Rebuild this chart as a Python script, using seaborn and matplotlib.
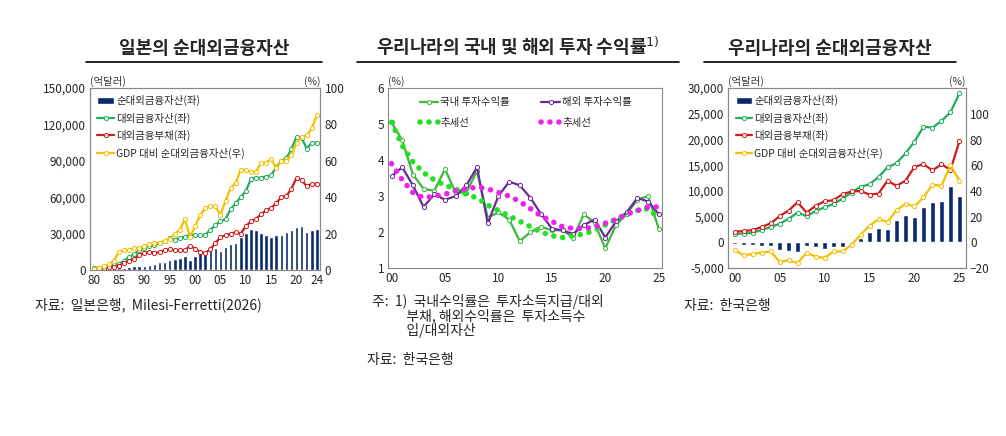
import matplotlib
matplotlib.use('Agg')
import matplotlib.pyplot as plt
import seaborn as sns
import numpy as np
from matplotlib.lines import Line2D

sns.set_theme(style='white')
plt.rcParams['font.family'] = ['Noto Sans CJK KR', 'DejaVu Sans']

# --- Japan (1980-2024), 억달러 / % of GDP
jp_years = list(range(1980, 2025))
jp_net = [100, 100, 250, 370, 740, 1300, 1800, 2400, 2900, 2900, 3300, 3800, 5100, 6100, 6900,
          8200, 8900, 9600, 11500, 8300, 11600, 14400, 14600, 16100, 17900, 15300, 18500, 21700,
          22500, 26800, 30300, 33400, 33000, 30800, 28500, 27300, 28600, 29100, 31000, 32700,
          35000, 36000, 31000, 33000, 33500]
jp_assets = [1500, 1800, 2300, 3000, 4000, 5000, 7500, 10500, 13000, 16000, 18000, 19500, 20500,
             22000, 23500, 26000, 25000, 26500, 27500, 29000, 29000, 28500, 29000, 33000, 37000,
             40000, 42000, 50000, 55000, 60000, 65000, 75000, 76000, 76000, 77000, 78000, 85000,
             90000, 92000, 100000, 110000, 109000, 100000, 105000, 105000]
jp_liab = [1000, 1200, 1500, 2000, 2500, 3500, 5500, 7500, 9000, 12000, 14000, 15000, 14000,
           14500, 16500, 17000, 16000, 16500, 16000, 20000, 17500, 14500, 14000, 17000, 22000,
           27000, 28500, 30000, 31000, 30000, 36000, 40000, 42000, 46000, 49000, 51000, 55000,
           60000, 61000, 67000, 76000, 74000, 69000, 71000, 71000]
jp_ratio = [0.5, 1, 2, 3, 5, 10, 11, 11, 12, 12, 13, 14, 15, 15, 16, 17, 20, 22, 28, 18, 24, 30,
            34, 35, 35, 30, 38, 45, 48, 55, 55, 54, 54, 59, 59, 61, 56, 60, 60, 63, 70, 73, 74, 78, 85]

# --- Korea investment returns (2000-2025), %
kr_years = list(range(2000, 2026))
ret_dom = [5.05, 4.55, 3.6, 3.2, 3.15, 3.75, 3.1, 3.1, 3.7, 2.4, 2.55, 2.35, 1.75, 2.0, 2.15,
           2.05, 2.05, 1.85, 2.5, 2.25, 1.55, 2.2, 2.5, 2.9, 3.0, 2.1]
ret_ovs = [3.55, 3.8, 3.3, 2.7, 3.05, 2.9, 3.0, 3.3, 3.8, 2.25, 3.0, 3.4, 3.3, 2.95, 2.5, 2.1,
           2.05, 1.95, 2.2, 2.35, 1.85, 2.3, 2.55, 2.95, 2.85, 2.5]
trend_dom = [5.05, 4.4, 3.95, 3.65, 3.45, 3.3, 3.2, 3.05, 2.95, 2.75, 2.6, 2.45, 2.3, 2.15, 2.0,
             1.9, 1.85, 1.9, 1.95, 2.05, 2.2, 2.35, 2.5, 2.6, 2.65, 2.4]
trend_ovs = [3.9, 3.45, 3.1, 2.95, 3.0, 3.05, 3.15, 3.2, 3.25, 3.2, 3.1, 3.0, 2.85, 2.65, 2.45,
             2.3, 2.15, 2.1, 2.1, 2.15, 2.25, 2.35, 2.5, 2.6, 2.7, 2.7]

# --- Korea NIIP (2000-2025)
kr_net = [-400, -500, -500, -600, -700, -1500, -1600, -1900, -600, -900, -1200, -800, -900, -300,
          800, 2100, 2800, 2600, 4400, 5300, 4900, 6900, 7900, 8100, 11000, 9000]
kr_assets = [1700, 1700, 1900, 2400, 3000, 3600, 4600, 5800, 5100, 6100, 6800, 7500, 8500, 9700,
             10800, 11300, 12700, 14600, 15400, 17300, 19600, 22500, 22300, 23600, 25300, 29000]
kr_liab = [2100, 2200, 2400, 3000, 3700, 5100, 6200, 7800, 5800, 7100, 8000, 8200, 9400, 9900,
           10000, 9300, 9500, 12000, 11000, 12000, 14700, 15200, 14000, 15200, 14100, 19700]
kr_ratio = [-6, -10, -9, -8, -7, -15, -14, -16, -8, -11, -12, -7, -7, -2, 6, 13, 18, 16, 25, 30,
            28, 35, 45, 44, 60, 48]

NAVY = '#0b2a6b'
GREEN = '#1fae5a'
RED = '#d11a1a'
YEL = '#f5c000'
FS = 8.5

fig = plt.figure(figsize=(10.06, 4.36), dpi=100)


def style(ax):
    for s in ax.spines.values():
        s.set_color('#888888')
        s.set_linewidth(0.8)
    ax.tick_params(labelsize=FS, length=0, pad=3)


def mline(ax, x, y, color, **kw):
    return ax.plot(x, y, color=color, lw=1.6, marker='o', ms=3, mfc='white', mec=color,
                   mew=0.7, **kw)[0]


def title(x0, x1, text):
    fig.text((x0 + x1) / 2, 0.868, text, ha='center', va='bottom', fontsize=13, fontweight='bold')
    fig.add_artist(Line2D([x0, x1], [0.858, 0.858], color='black', lw=1.2, transform=fig.transFigure))


def niip_panel(rect, years, net, assets, liab, ratio, ylim, yticks, rlim, rticks, xt, xl, bw):
    ax = fig.add_axes(rect)
    style(ax)
    b = ax.bar(years, net, width=bw, color=NAVY, label='순대외금융자산(좌)')
    la = mline(ax, years, assets, GREEN, label='대외금융자산(좌)')
    ll = mline(ax, years, liab, RED, label='대외금융부채(좌)')
    ax.set_ylim(*ylim)
    ax.set_yticks(yticks)
    ax.set_yticklabels([f'{v:,}' for v in yticks])
    ax.set_xlim(years[0] - 0.7, years[-1] + 0.7)
    ax.set_xticks(xt)
    ax.set_xticklabels(xl)
    ax2 = ax.twinx()
    style(ax2)
    lr = mline(ax2, years, ratio, YEL, label='GDP 대비 순대외금융자산(우)')
    ax2.set_ylim(*rlim)
    ax2.set_yticks(rticks)
    ax2.grid(False)
    ax2.legend([b, la, ll, lr], [b.get_label(), la.get_label(), ll.get_label(), lr.get_label()],
               loc='upper left', fontsize=7.5, frameon=False,
               handlelength=1.6, labelspacing=0.6, borderaxespad=0.3, handletextpad=0.2)
    ax.text(0, 1.02, '(억달러)', transform=ax.transAxes, fontsize=7.5, color='#333333')
    ax.text(1, 1.02, '(%)', transform=ax.transAxes, fontsize=7.5, color='#333333', ha='right')
    return ax


# Panel 1: Japan
niip_panel([0.0895, 0.381, 0.229, 0.417], jp_years, jp_net, jp_assets, jp_liab, jp_ratio,
           (0, 150000), [0, 30000, 60000, 90000, 120000, 150000], (0, 100), [0, 20, 40, 60, 80, 100],
           [1980, 1985, 1990, 1995, 2000, 2005, 2010, 2015, 2020, 2024],
           ['80', '85', '90', '95', '00', '05', '10', '15', '20', '24'], 0.7)
title(0.085, 0.32, '일본의 순대외금융자산')
fig.text(0.035, 0.29, '자료:  일본은행,  Milesi-Ferretti(2026)', fontsize=10)

# Panel 2: returns
ax = fig.add_axes([0.386, 0.385, 0.272, 0.413])
style(ax)
h1 = mline(ax, kr_years, ret_dom, '#3cb83c', label='국내 투자수익률')
h2 = mline(ax, kr_years, ret_ovs, '#6a2a9a', label='해외 투자수익률')
h3 = ax.plot(kr_years, trend_dom, color='#22e022', lw=4, linestyle=(0, (0.01, 1.6)),
             dash_capstyle='round', label='추세선')[0]
h4 = ax.plot(kr_years, trend_ovs, color='#ee22ee', lw=4, linestyle=(0, (0.01, 1.6)),
             dash_capstyle='round', label='추세선')[0]
ax.set_ylim(1, 6)
ax.set_xlim(1999.7, 2025.3)
ax.set_xticks([2000, 2005, 2010, 2015, 2020, 2025])
ax.set_xticklabels(['00', '05', '10', '15', '20', '25'])
ax.legend([h1, h3, h2, h4], ['국내 투자수익률', '추세선', '해외 투자수익률', '추세선'],
          loc='upper left', ncol=2, fontsize=7.5, frameon=False, handlelength=1.8,
          columnspacing=3.0, labelspacing=1.0, bbox_to_anchor=(0.08, 1.0), handletextpad=0.2)
ax.text(0, 1.02, '(%)', transform=ax.transAxes, fontsize=7.5, color='#333333')
title(0.355, 0.675, '우리나라의 국내 및 해외 투자 수익률$^{1)}$')
fig.text(0.37, 0.325, '주:  1)  국내수익률은  투자소득지급/대외\n           부채, 해외수익률은  투자소득수\n           입/대외자산', fontsize=10,
         va='top', linespacing=0.95)
fig.text(0.365, 0.165, '자료:  한국은행', fontsize=10)

# Panel 3: Korea NIIP
niip_panel([0.724, 0.385, 0.236, 0.413], kr_years, kr_net, kr_assets, kr_liab, kr_ratio,
           (-5000, 30000), [-5000, 0, 5000, 10000, 15000, 20000, 25000, 30000], (-20, 120),
           [-20, 0, 20, 40, 60, 80, 100],
           [2000, 2005, 2010, 2015, 2020, 2025], ['00', '05', '10', '15', '20', '25'], 0.6)
title(0.70, 0.95, '우리나라의 순대외금융자산')
fig.text(0.68, 0.29, '자료:  한국은행', fontsize=10)

fig.savefig('out.png', dpi=100)
